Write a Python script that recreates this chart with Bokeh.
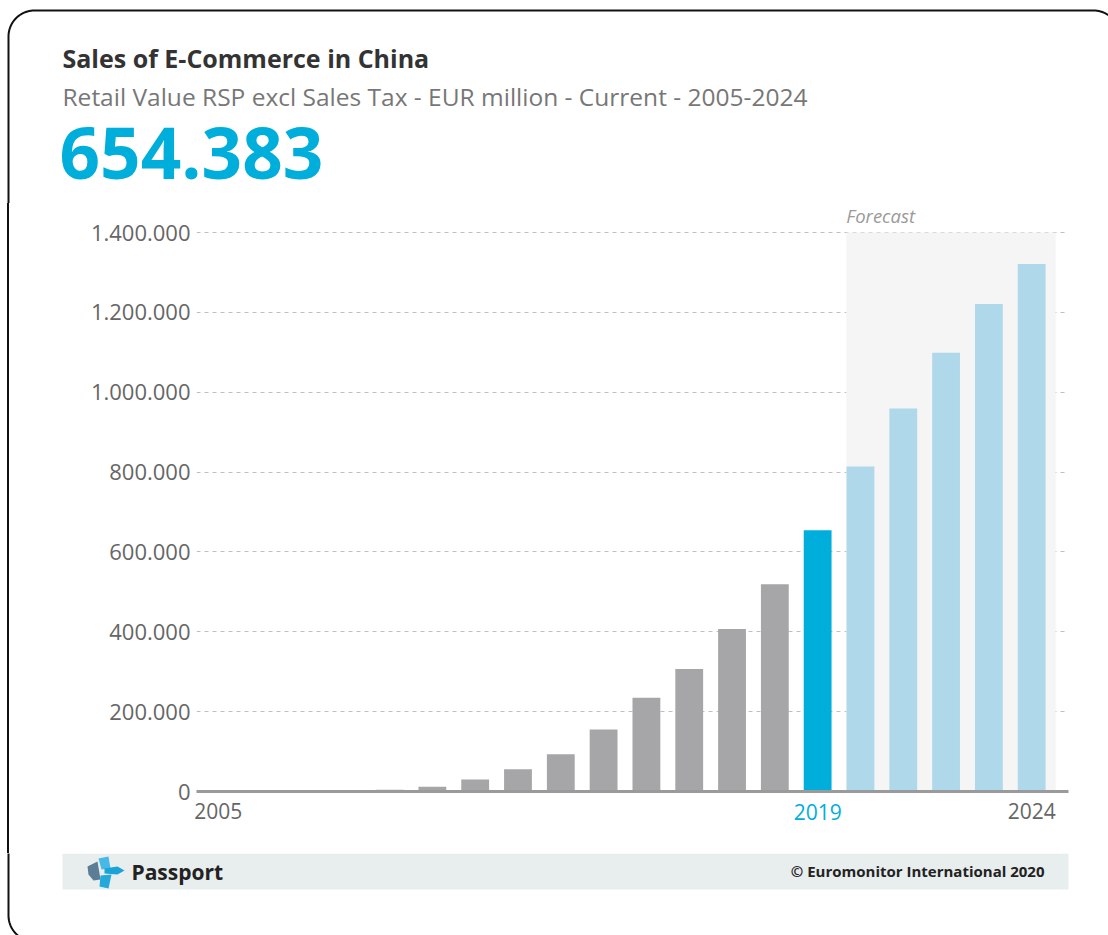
import numpy as np
from bokeh.plotting import figure
from bokeh.layouts import column, row
from bokeh.models import Range1d, FixedTicker, BoxAnnotation, LinearAxis, Spacer, Label
from bokeh.core.properties import value
from bokeh.embed import file_html
from bokeh.resources import INLINE

# ---- data (EUR million) ----
hist_years = list(range(2005, 2020))
hist_values = [500, 1000, 3000, 4000, 4500, 12000, 30000, 56000, 93000,
               155000, 235000, 307000, 407000, 519000, 654383]
forecast_years = [2020, 2021, 2022, 2023, 2024]
forecast_values = [814000, 959000, 1099000, 1221000, 1321000]
current_year = 2019
y_ticks = [0, 200000, 400000, 600000, 800000, 1000000, 1200000, 1400000]
x_tick_years = [2005, 2024]

title = "Sales of E-Commerce in China"
subtitle = "Retail Value RSP excl Sales Tax - EUR million - Current - 2005-2024"
forecast_label = "Forecast"
brand = "Passport"
copyright_text = "© Euromonitor International 2020"

GRAY = "#A6A6A8"
BLUE = "#00AEDB"
LIGHT = "#B0D8EB"
FONT = "Open Sans"

def dotted(n):
    return f"{n:,.0f}".replace(",", ".")

W, H = 1108, 935
HEADER_H = 203
FOOTER_Y = 853
STRIP_W = 20
FL, FR, FT, FB = 196, 1068, HEADER_H, 791  # chart frame edges in page px
TOP_TICK_PX = 232                           # page px of the top gridline
BASE_K = 0.42                               # alphabetic-baseline correction (em)


# rounded outer border path (page px)
def rounded_rect(l, t, r, b, rad, n=24):
    pts = []
    corners = [(r - rad, t + rad, -90, 0), (r - rad, b - rad, 0, 90),
               (l + rad, b - rad, 90, 180), (l + rad, t + rad, 180, 270)]
    for cx, cy, a0, a1 in corners:
        a = np.radians(np.linspace(a0, a1, n))
        pts += list(zip(cx + rad * np.cos(a), cy + rad * np.sin(a)))
    pts.append(pts[0])
    xs, ys = zip(*pts)
    return list(xs), list(ys)

BX, BY = rounded_rect(8, 10, 1119, 941, 26)


def deco_figure(x0, y0, w, h):
    f = figure(width=w, height=h, output_backend="svg", toolbar_location=None,
               x_range=Range1d(x0, x0 + w), y_range=Range1d(y0 + h, y0),
               x_axis_type=None, y_axis_type=None,
               min_border=0, min_border_left=0, min_border_right=0,
               min_border_top=0, min_border_bottom=0)
    f.title.visible = False
    f.outline_line_color = None
    f.grid.visible = False
    f.background_fill_color = "white"
    f.border_fill_color = "white"
    f.line(BX, BY, line_color="#111111", line_width=2)
    return f


def txt(f, x, y, s, size, color, style="normal", align="left"):
    # baseline y in page px; shifted for the renderer's alphabetic offset
    f.text(x=[x], y=[y - BASE_K * size], text=[s], text_font=value(FONT),
           text_font_style=style, text_font_size=f"{size}px", text_color=color,
           text_align=align, text_baseline="alphabetic")


# ---------- header ----------
hd = deco_figure(0, 0, W, HEADER_H)
txt(hd, 62, 68, title, 25, "#333333", "bold")
txt(hd, 62, 106, subtitle, 24.5, "#777777")
txt(hd, 59, 182, dotted(hist_values[hist_years.index(current_year)]), 71, BLUE, "bold")

# ---------- left strip: the outer border's vertical line ----------
chart_h = FOOTER_Y - HEADER_H
strip = row(Spacer(width=7, height=chart_h, margin=0),
            Spacer(width=2, height=chart_h, margin=0, styles={"background-color": "#111111"}),
            Spacer(width=STRIP_W - 9, height=chart_h, margin=0),
            spacing=0, margin=0)

# ---------- chart ----------
def px_to_val(py):
    return y_ticks[-1] * (FB - py) / (FB - TOP_TICK_PX)

p = figure(width=W - STRIP_W, height=chart_h, output_backend="svg", toolbar_location=None,
           x_range=Range1d(2004.49, 2024.86),
           y_range=Range1d(0, px_to_val(FT)),
           min_border_left=FL - STRIP_W, min_border_right=W - FR,
           min_border_top=0, min_border_bottom=FOOTER_Y - FB)
p.title.visible = False
p.outline_line_color = None
p.background_fill_color = "white"
p.border_fill_color = "white"

shade_left = forecast_years[0] - 0.33
shade = BoxAnnotation(left=shade_left, right=forecast_years[-1] + 0.56,
                      bottom=0, top=y_ticks[-1], fill_color="#F5F5F5", fill_alpha=1,
                      line_color=None, level="underlay")
p.add_layout(shade)

# "Forecast" caption above the shaded forecast block
FC_SIZE = 18.5
p.add_layout(Label(x=shade_left, y=px_to_val(223 - BASE_K * FC_SIZE), text=forecast_label,
                   text_font=FONT, text_font_style="italic",
                   text_font_size=f"{FC_SIZE}px", text_color="#9A9A9A",
                   text_baseline="alphabetic"))

p.xgrid.visible = False
p.ygrid.ticker = FixedTicker(ticks=y_ticks)
p.ygrid.grid_line_color = "#BFBFBF"
p.ygrid.grid_line_dash = "4 4"
p.ygrid.grid_line_width = 1

years = hist_years + forecast_years
values = hist_values + forecast_values
colors = [BLUE if y == current_year else (LIGHT if y in forecast_years else GRAY) for y in years]
p.vbar(x=years, top=values, width=0.65, color=colors, line_color=None)

p.yaxis.ticker = FixedTicker(ticks=y_ticks)
p.yaxis.major_label_overrides = {t: dotted(t) for t in y_ticks}
p.yaxis.axis_line_color = None
p.yaxis.major_tick_line_color = None
p.yaxis.minor_tick_line_color = None
p.yaxis.major_tick_out = 0
p.yaxis.major_tick_in = 0
p.yaxis.minor_tick_out = 0
p.yaxis.minor_tick_in = 0
p.yaxis.major_label_standoff = 6
p.yaxis.major_label_text_font = FONT
p.yaxis.major_label_text_font_size = "22px"
p.yaxis.major_label_text_color = "#666666"

# primary x axis: line + highlighted current year
p.xaxis.ticker = FixedTicker(ticks=[current_year])
p.xaxis.major_label_overrides = {current_year: str(current_year)}
p.xaxis.axis_line_color = "#9A9A9A"
p.xaxis.axis_line_width = 3
p.xaxis.major_tick_line_color = None
p.xaxis.minor_tick_line_color = None
p.xaxis.major_tick_out = 0
p.xaxis.major_tick_in = 0
p.xaxis.minor_tick_out = 0
p.xaxis.minor_tick_in = 0
p.xaxis.major_label_standoff = 12
p.xaxis.major_label_text_font = FONT
p.xaxis.major_label_text_font_size = "21px"
p.xaxis.major_label_text_color = BLUE

# secondary x axis: first / last year in gray, pulled up onto the same row
ax2 = LinearAxis(ticker=FixedTicker(ticks=x_tick_years),
                 major_label_overrides={y: str(y) for y in x_tick_years},
                 axis_line_color=None, major_tick_line_color=None,
                 minor_tick_line_color=None, major_tick_out=0, major_tick_in=0,
                 minor_tick_out=0, minor_tick_in=0, major_label_standoff=-20,
                 major_label_text_font=FONT, major_label_text_font_size="21px",
                 major_label_text_color="#666666")
p.add_layout(ax2, "below")

# ---------- footer ----------
ft = deco_figure(0, FOOTER_Y, W, H - FOOTER_Y)
ft.quad(left=[62], right=[1068], top=[853], bottom=[889], fill_color="#E8EDED",
        line_color=None, level="underlay")
logo_xs = [[87, 97, 100, 93, 88], [98, 108, 110, 101], [104, 117, 124, 117, 104], [100, 111, 108, 99]]
logo_ys = [[866, 861, 879, 880, 874], [858, 856, 868, 869], [868, 866, 870, 874, 873], [875, 874, 888, 886]]
logo_cs = ["#5C7D95", "#48B9E6", "#1AA3D6", "#23A9DC"]
ft.patches(xs=logo_xs, ys=logo_ys, fill_color=logo_cs, line_color=None)
txt(ft, 131, 880, brand, 21, "#222222", "bold")
txt(ft, 1044, 877, copyright_text, 15, "#222222", "bold", "right")

layout = column(hd, row(strip, p, spacing=0), ft, spacing=0)
open("out.html", "w").write(file_html(layout, INLINE))
